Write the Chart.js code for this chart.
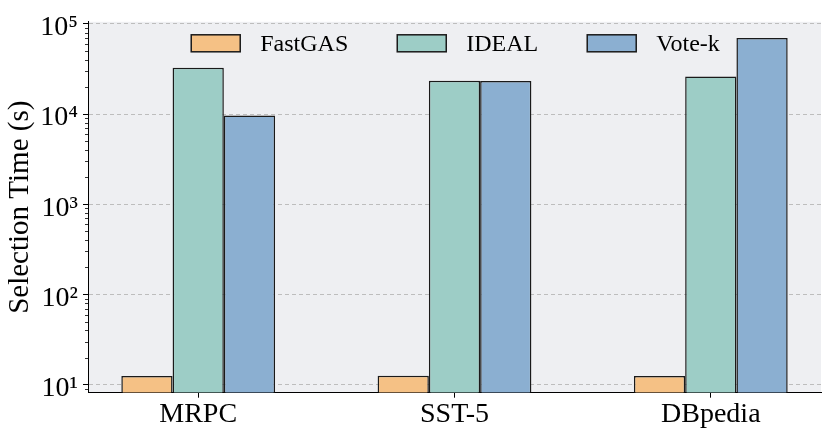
<!DOCTYPE html>
<html><head><meta charset="utf-8">
<script src="https://cdn.jsdelivr.net/npm/chart.js@4.4.1/dist/chart.umd.min.js"></script>
<style>html,body{margin:0;padding:0;background:#fff;} canvas{display:block;}</style>
</head><body>
<canvas id="c" width="831" height="437"></canvas>
<script>
const categories = ['MRPC', 'SST-5', 'DBpedia'];
const seriesNames = ['FastGAS', 'IDEAL', 'Vote-k'];
const fastgas = [12.5, 12.6, 12.5];
const ideal = [32500, 23400, 26100];
const votek = [9650, 23200, 69600];
const yTickValues = [10, 100, 1000, 10000, 100000];
const yTickLabels = ['10\u00B9', '10\u00B2', '10\u00B3', '10\u2074', '10\u2075'];

const FONT = "'Liberation Serif', 'Times New Roman', serif";
const colors = ['#F5C185', '#9DCDC6', '#8BAFD1'];
const seriesValues = [fastgas, ideal, votek];

const bgPlugin = {
  id: 'plotBg',
  beforeDraw(chart) {
    const {ctx, chartArea: a} = chart;
    ctx.save();
    ctx.fillStyle = '#EEEFF2';
    ctx.fillRect(a.left, a.top, a.right - a.left, a.bottom - a.top);
    ctx.restore();
  }
};
const minorTicks = {
  id: 'minorTicks',
  afterDraw(chart) {
    const y = chart.scales.y, ctx = chart.ctx;
    ctx.save();
    ctx.strokeStyle = '#000';
    ctx.lineWidth = 0.8;
    for (let e = 0; e <= 5; e++) {
      for (let m = 2; m <= 9; m++) {
        const v = m * Math.pow(10, e);
        if (v < y.min || v > y.max) continue;
        const py = Math.round(y.getPixelForValue(v)) + 0.5;
        ctx.beginPath();
        ctx.moveTo(y.right - 3, py);
        ctx.lineTo(y.right, py);
        ctx.stroke();
      }
    }
    ctx.restore();
  }
};
// legend drawn inside the plot area, from the chart's own datasets
const innerLegend = {
  id: 'innerLegend',
  afterDatasetsDraw(chart) {
    const {ctx, chartArea: a} = chart;
    const boxW = 49, boxH = 17, gapText = 20, gapItem = 49;
    ctx.save();
    ctx.font = '24px ' + FONT;
    const ds = chart.data.datasets;
    const widths = ds.map(d => ctx.measureText(d.label).width);
    let total = 0;
    widths.forEach((w, i) => { total += boxW + gapText + w + (i < widths.length - 1 ? gapItem : 0); });
    let x = (a.left + a.right) / 2 + 1 - total / 2;
    const yTop = a.top + 13;
    ds.forEach((d, i) => {
      ctx.fillStyle = d.backgroundColor;
      ctx.fillRect(x, yTop, boxW, boxH);
      ctx.lineWidth = 1.5;
      ctx.strokeStyle = d.borderColor;
      ctx.strokeRect(x, yTop, boxW, boxH);
      ctx.fillStyle = '#000';
      ctx.textBaseline = 'middle';
      ctx.textAlign = 'left';
      ctx.fillText(d.label, x + boxW + gapText, yTop + boxH / 2 + 1);
      x += boxW + gapText + widths[i] + gapItem;
    });
    ctx.restore();
  }
};

new Chart(document.getElementById('c'), {
  type: 'bar',
  data: {
    datasets: seriesNames.map((name, s) => ({
      label: name,
      data: categories.map((c, i) => ({x: i, y: seriesValues[s][i]})),
      backgroundColor: colors[s],
      borderColor: '#1a1a1a',
      borderWidth: 1.5,
      categoryPercentage: 0.6,
      barPercentage: 1.0
    }))
  },
  options: {
    responsive: false,
    animation: false,
    devicePixelRatio: 1,
    layout: {padding: {top: 19, right: 10, bottom: 0, left: 0}},
    plugins: {
      tooltip: {enabled: false},
      legend: {display: false}
    },
    scales: {
      x: {
        type: 'linear',
        position: 'bottom',
        min: -0.43,
        max: 2.43,
        bounds: 'data',
        offset: false,
        afterFit(scale) { scale.height = 44.3; },
        afterBuildTicks(scale) { scale.ticks = categories.map((c, i) => ({value: i})); },
        grid: {display: true, offset: false, drawOnChartArea: false, drawTicks: true, tickLength: 5, tickColor: '#000', tickWidth: 1},
        border: {display: true, color: '#000', width: 1},
        ticks: {
          font: {family: FONT, size: 28},
          color: '#000',
          padding: 0,
          maxRotation: 0,
          autoSkip: false,
          callback: (v) => categories[v] ?? ''
        }
      },
      y: {
        type: 'logarithmic',
        min: 8.17,
        max: 105200,
        afterFit(scale) { scale.width = 88; },
        afterBuildTicks(scale) { scale.ticks = yTickValues.map(v => ({value: v, major: true})); },
        grid: {color: '#BDBDBD', lineWidth: 1, drawTicks: true, tickLength: 5, tickColor: '#000', tickWidth: 1, tickBorderDash: []},
        border: {display: true, color: '#000', width: 1, dash: [4, 3]},
        ticks: {
          font: {family: FONT, size: 28},
          color: '#000',
          padding: 5,
          labelOffset: 4,
          autoSkip: false,
          callback: (v) => { const k = yTickValues.indexOf(v); return k >= 0 ? yTickLabels[k] : ''; }
        },
        title: {
          display: true,
          text: 'Selection Time (s)',
          font: {family: FONT, size: 29},
          color: '#000',
          padding: {top: 3, bottom: 0}
        }
      }
    }
  },
  plugins: [bgPlugin, minorTicks, innerLegend]
});
</script>
</body></html>
